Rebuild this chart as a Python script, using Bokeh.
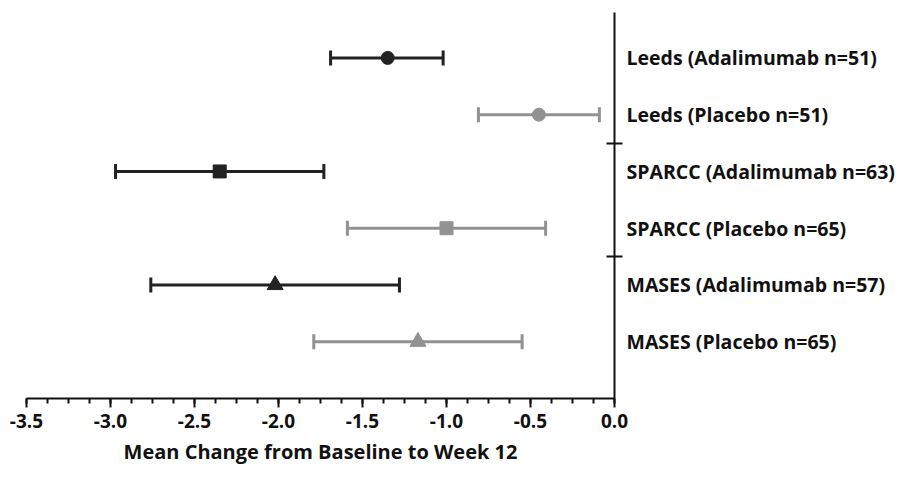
from bokeh.plotting import figure
from bokeh.models import (ColumnDataSource, Range1d, SingleIntervalTicker, FixedTicker,
                          Whisker, TeeHead, PrintfTickFormatter)
from bokeh.embed import file_html
from bokeh.resources import INLINE

# ---- data ----
labels = ["Leeds (Adalimumab n=51)", "Leeds (Placebo n=51)",
          "SPARCC (Adalimumab n=63)", "SPARCC (Placebo n=65)",
          "MASES (Adalimumab n=57)", "MASES (Placebo n=65)"]
arms = ["Adalimumab", "Placebo", "Adalimumab", "Placebo", "Adalimumab", "Placebo"]
markers = ["circle", "circle", "square", "square", "triangle", "triangle"]
means = [-1.35, -0.45, -2.35, -1.00, -2.02, -1.17]
lower = [-1.69, -0.81, -2.97, -1.59, -2.76, -1.79]
upper = [-1.02, -0.09, -1.73, -0.41, -1.28, -0.55]
rows = [1, 2, 3, 4, 5, 6]
group_breaks = [2.5, 4.5]

DARK = "#222222"
GRAY = "#929292"
FONT = "Open Sans"
MARKER_SIZE = {"circle": 13, "square": 13, "triangle": 16}

p = figure(width=893, height=461, frame_width=588, frame_height=386,
           output_backend="svg", toolbar_location=None,
           x_range=Range1d(-3.5, 0.0), y_range=Range1d(7.0, 0.2),
           y_axis_location="right", min_border_left=26, min_border_right=279,
           min_border_top=12, min_border_bottom=63)
p.outline_line_color = None
p.xgrid.visible = False
p.ygrid.visible = False
p.background_fill_color = "white"

for arm, col in (("Adalimumab", DARK), ("Placebo", GRAY)):
    idx = [i for i, a in enumerate(arms) if a == arm]
    src = ColumnDataSource(dict(y=[rows[i] for i in idx], m=[means[i] for i in idx],
                                lo=[lower[i] for i in idx], hi=[upper[i] for i in idx],
                                mk=[markers[i] for i in idx],
                                sz=[MARKER_SIZE[markers[i]] for i in idx]))
    w = Whisker(source=src, base="y", lower="lo", upper="hi", dimension="width",
                line_color=col, line_width=3,
                lower_head=TeeHead(size=15, line_color=col, line_width=3),
                upper_head=TeeHead(size=15, line_color=col, line_width=3))
    p.add_layout(w)
    p.scatter("m", "y", source=src, marker="mk", size="sz", fill_color=col, line_color=col)

# bottom axis
xa = p.xaxis[0]
xa.ticker = SingleIntervalTicker(interval=0.5, num_minor_ticks=4)
xa.formatter = PrintfTickFormatter(format="%.1f")
xa.axis_line_width = 2
xa.axis_line_color = "#111111"
xa.major_tick_line_width = 2
xa.major_tick_line_color = "#111111"
xa.minor_tick_line_width = 2
xa.minor_tick_line_color = "#111111"
xa.major_tick_in = 0
xa.major_tick_out = 9
xa.minor_tick_in = 0
xa.minor_tick_out = 5
xa.major_label_text_font = FONT
xa.major_label_text_font_style = "bold"
xa.major_label_text_font_size = "19px"
xa.major_label_text_color = "#111111"
xa.major_label_standoff = 6
xa.axis_label = "Mean Change from Baseline to Week 12"
xa.axis_label_text_font = FONT
xa.axis_label_text_font_style = "bold"
xa.axis_label_text_font_size = "20px"
xa.axis_label_text_color = "#111111"
xa.axis_label_standoff = 7

# right axis
ya = p.yaxis[0]
ya.ticker = FixedTicker(ticks=rows, minor_ticks=group_breaks)
ya.major_label_overrides = {r: lab for r, lab in zip(rows, labels)}
ya.major_tick_line_color = None
ya.minor_tick_in = 8
ya.minor_tick_out = 8
ya.minor_tick_line_width = 2
ya.minor_tick_line_color = "#111111"
ya.axis_line_width = 2
ya.axis_line_color = "#111111"
ya.major_label_standoff = 4
ya.major_label_text_font = FONT
ya.major_label_text_font_style = "bold"
ya.major_label_text_font_size = "19.5px"
ya.major_label_text_color = "#111111"

open("out.html", "w").write(file_html(p, INLINE))
